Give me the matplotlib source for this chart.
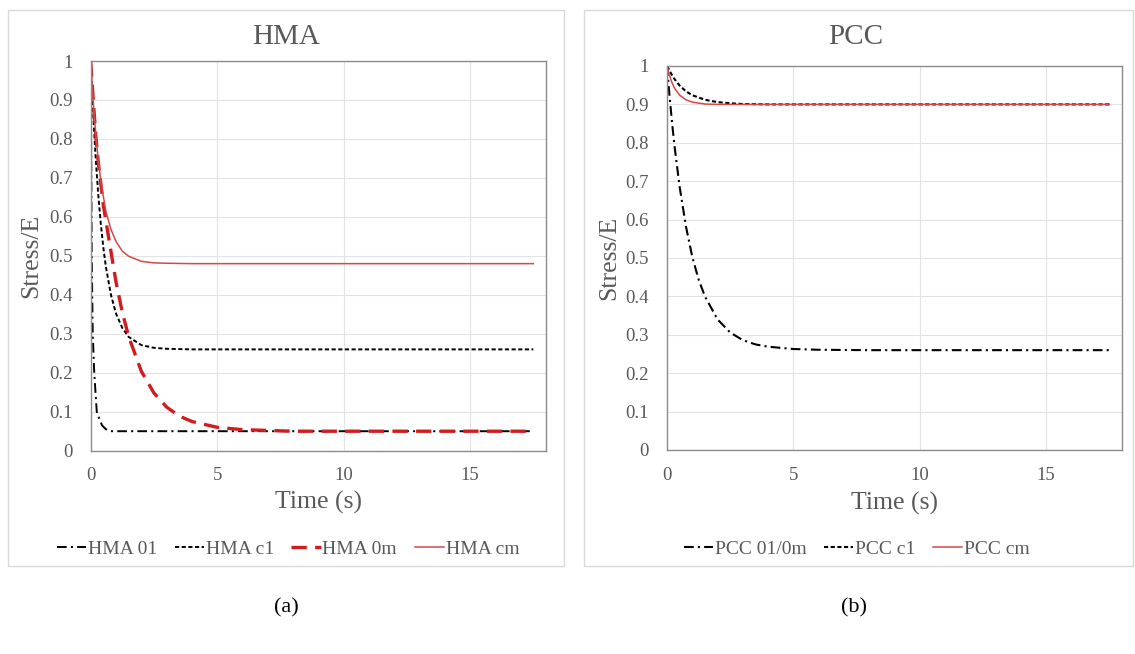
import matplotlib
matplotlib.use('Agg')
import matplotlib.pyplot as plt
from matplotlib.patches import Rectangle

plt.rcParams['font.family'] = ['Liberation Serif', 'DejaVu Serif']
plt.rcParams['lines.scale_dashes'] = False

# ---------------- data ----------------
hma_01_t = [0, 0.02, 0.04, 0.08, 0.14, 0.24, 0.35, 0.45, 0.6, 0.8, 1.5, 5, 10, 17.5]
hma_01_v = [1, 0.75, 0.5, 0.3, 0.2, 0.1, 0.08, 0.065, 0.055, 0.05, 0.05, 0.05, 0.05, 0.05]

hma_c1_t = [0, 0.1, 0.2, 0.3, 0.4, 0.5, 0.6, 0.8, 1.0, 1.25, 1.5, 2.0, 2.5, 3.0, 4.0, 10, 17.5]
hma_c1_v = [1, 0.861, 0.748, 0.656, 0.582, 0.521, 0.472, 0.400, 0.352, 0.315, 0.292, 0.271, 0.264, 0.2615, 0.26, 0.26, 0.26]

hma_0m_t = [0, 0.1, 0.2, 0.3, 0.5, 0.75, 1.0, 1.25, 1.5, 2.0, 2.5, 3.0, 3.5, 4.0, 5.0, 6.0, 7.0, 8.0, 12, 17.5]
hma_0m_v = [1, 0.90, 0.81, 0.74, 0.63, 0.531, 0.433, 0.355, 0.293, 0.204, 0.148, 0.112, 0.089, 0.075, 0.06, 0.054, 0.052, 0.05, 0.05, 0.05]

hma_cm_t = [0, 0.1, 0.2, 0.3, 0.4, 0.5, 0.6, 0.8, 1.0, 1.25, 1.5, 2.0, 2.5, 3.0, 4.0, 10, 17.5]
hma_cm_v = [1, 0.896, 0.813, 0.745, 0.693, 0.652, 0.615, 0.568, 0.537, 0.512, 0.499, 0.486, 0.482, 0.481, 0.48, 0.48, 0.48]

pcc_01_t = [0, 0.1, 0.2, 0.3, 0.5, 0.75, 1.0, 1.25, 1.5, 2.0, 2.5, 3.0, 3.5, 4.0, 5.0, 6.0, 8.0, 12, 17.5]
pcc_01_v = [1, 0.922, 0.852, 0.79, 0.685, 0.582, 0.503, 0.444, 0.40, 0.34, 0.306, 0.286, 0.275, 0.269, 0.263, 0.261, 0.26, 0.26, 0.26]

pcc_c1_t = [0, 0.25, 0.5, 0.75, 1.0, 1.5, 2.0, 2.5, 3.0, 4.0, 10, 17.5]
pcc_c1_v = [1, 0.97, 0.949, 0.934, 0.924, 0.912, 0.906, 0.903, 0.901, 0.9, 0.9, 0.9]

pcc_cm_t = [0, 0.1, 0.2, 0.3, 0.5, 0.75, 1.0, 1.5, 2.0, 10, 17.5]
pcc_cm_v = [1, 0.975, 0.956, 0.942, 0.924, 0.912, 0.906, 0.901, 0.9, 0.9, 0.9]

x_ticks = [0, 5, 10, 15]
y_ticks = [0, 0.1, 0.2, 0.3, 0.4, 0.5, 0.6, 0.7, 0.8, 0.9, 1]
y_tick_labels = ['0', '0.1', '0.2', '0.3', '0.4', '0.5', '0.6', '0.7', '0.8', '0.9', '1']

# ---------------- figure ----------------
W, H = 1135, 654
fig = plt.figure(figsize=(W / 100, H / 100), dpi=100)
fig.patch.set_facecolor('white')


def fx(px):
    return px / W


def fy(py):
    return 1 - py / H


GREY = '#595959'
RED_DASH = '#d01c1f'
RED_SOLID = '#d04a4a'

# chart frames
for x0, x1 in [(8, 564), (584, 1133)]:
    fig.patches.append(Rectangle((fx(x0), fy(566)), fx(x1) - fx(x0), fy(10) - fy(566),
                                 transform=fig.transFigure, fill=False,
                                 ec='#d9d9d9', lw=1.0))

ax1 = fig.add_axes([fx(90.7), fy(450.7), fx(546) - fx(90.7), fy(61) - fy(450.7)])
ax2 = fig.add_axes([fx(667), fy(450), fx(1122) - fx(667), fy(66) - fy(450)])


def style(ax, xlab_y, ylab_x):
    ax.set_xlim(0, 18)
    ax.set_ylim(0, 1)
    ax.set_xticks(x_ticks)
    ax.set_yticks(y_ticks)
    ax.set_yticklabels(y_tick_labels)
    ax.grid(True, color='#e3e3e3', lw=0.8)
    ax.set_axisbelow(True)
    for s in ax.spines.values():
        s.set_color('#8c8c8c')
        s.set_linewidth(1.0)
    ax.tick_params(axis='both', length=0, labelsize=13.5, labelcolor=GREY)
    ax.tick_params(axis='y', pad=13)
    ax.tick_params(axis='x', pad=12)
    ax.set_xlabel('Time (s)', fontsize=18.5, color=GREY)
    ax.set_ylabel('Stress/E', fontsize=18.5, color=GREY)
    ax.xaxis.set_label_coords(0.5, xlab_y)
    ax.xaxis.label.set_va('center')
    ax.yaxis.set_label_coords(ylab_x, 0.5)
    ax.yaxis.label.set_va('center')


DASHDOT = (0, (7, 3, 1.5, 3))
SHORTDASH = (0, (3, 1.8))
LONGDASH = (0, (11, 6))

# HMA
ax1.plot(hma_01_t, hma_01_v, color='black', lw=1.4, linestyle=DASHDOT, label='HMA 01')
ax1.plot(hma_c1_t, hma_c1_v, color='black', lw=1.4, linestyle=SHORTDASH, label='HMA c1')
ax1.plot(hma_0m_t, hma_0m_v, color=RED_DASH, lw=2.4, linestyle=LONGDASH, label='HMA 0m')
ax1.plot(hma_cm_t, hma_cm_v, color=RED_SOLID, lw=1.1, linestyle='-', label='HMA cm')
style(ax1, -0.134, -0.131)

# PCC
ax2.plot(pcc_01_t, pcc_01_v, color='black', lw=1.5, linestyle=DASHDOT, label='PCC 01/0m')
ax2.plot(pcc_c1_t, pcc_c1_v, color='black', lw=1.5, linestyle=SHORTDASH, label='PCC c1')
ax2.plot(pcc_cm_t, pcc_cm_v, color=RED_SOLID, lw=1.1, linestyle='-', label='PCC cm')
style(ax2, -0.138, -0.126)

# titles
fig.text(fx(286), fy(37), 'HMA', fontsize=21, color=GREY, ha='center', va='center')
fig.text(fx(856), fy(37), 'PCC', fontsize=21, color=GREY, ha='center', va='center')

# legends
h1, l1 = ax1.get_legend_handles_labels()
fig.legend(h1, l1, loc='center', bbox_to_anchor=(fx(288), fy(549)), ncol=4, frameon=False,
           fontsize=14, handlelength=1.5, handletextpad=0.1, columnspacing=0.9,
           labelcolor=GREY)
h2, l2 = ax2.get_legend_handles_labels()
fig.legend(h2, l2, loc='center', bbox_to_anchor=(fx(857), fy(549)), ncol=3, frameon=False,
           fontsize=14, handlelength=1.5, handletextpad=0.1, columnspacing=0.9,
           labelcolor=GREY)

# sub-figure captions
fig.text(fx(286), fy(608), '(a)', fontsize=16, color='black', ha='center', va='center')
fig.text(fx(854), fy(608), '(b)', fontsize=16, color='black', ha='center', va='center')

fig.savefig('out.png', dpi=100, facecolor='white')
